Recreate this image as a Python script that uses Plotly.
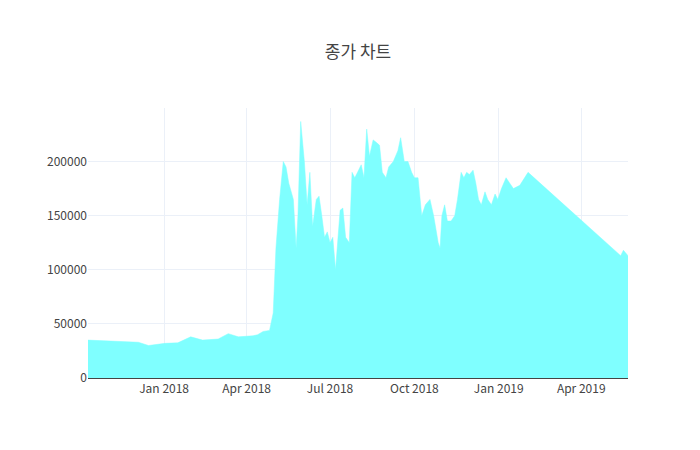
import plotly.graph_objects as go

dates = ["2017-10-10","2017-11-01","2017-12-04","2017-12-15","2018-01-02","2018-01-16","2018-01-30","2018-02-12",
"2018-03-01","2018-03-12","2018-03-23","2018-04-08","2018-04-13","2018-04-19","2018-04-26","2018-04-30",
"2018-05-03","2018-05-07","2018-05-11","2018-05-14","2018-05-17","2018-05-22","2018-05-25","2018-05-27",
"2018-05-30","2018-06-03","2018-06-06","2018-06-09","2018-06-12","2018-06-16","2018-06-19","2018-06-22",
"2018-06-25","2018-06-28","2018-07-01","2018-07-04","2018-07-07","2018-07-12","2018-07-15","2018-07-18",
"2018-07-22","2018-07-25","2018-07-28","2018-07-31","2018-08-04","2018-08-07","2018-08-10","2018-08-13",
"2018-08-17","2018-08-20","2018-08-24","2018-08-27","2018-08-31","2018-09-03","2018-09-08","2018-09-13",
"2018-09-16","2018-09-20","2018-09-24","2018-09-28","2018-10-01","2018-10-05","2018-10-09","2018-10-13",
"2018-10-18","2018-10-22","2018-10-27","2018-10-29","2018-10-31","2018-11-03","2018-11-06","2018-11-10",
"2018-11-14","2018-11-17","2018-11-21","2018-11-24","2018-11-27","2018-11-30","2018-12-04","2018-12-07",
"2018-12-10","2018-12-13","2018-12-17","2018-12-20","2018-12-24","2018-12-28","2018-12-31","2019-01-04",
"2019-01-09","2019-01-13","2019-01-17","2019-01-24","2019-02-02","2019-05-14","2019-05-17","2019-05-22"]
close = [35000,34000,33000,30000,32000,32500,38000,35000,
36000,41000,38000,39000,40000,43000,44000,60000,
120000,165000,200000,195000,180000,165000,120000,150000,
237000,200000,160000,190000,140000,165000,168000,150000,
130000,135000,125000,130000,100000,155000,157000,130000,
125000,190000,185000,190000,197000,185000,230000,205000,
220000,218000,215000,190000,185000,195000,200000,210000,
222000,200000,200000,190000,185000,185000,150000,160000,
165000,150000,125000,120000,150000,160000,145000,145000,
150000,165000,190000,185000,190000,188000,192000,180000,
165000,160000,172000,165000,160000,170000,165000,175000,
185000,180000,175000,178000,190000,113000,118000,113000]

fig = go.Figure(go.Scatter(x=dates, y=close, mode="lines", fill="tozeroy",
                           line=dict(width=0.5, color="#7fffff"), fillcolor="#7fffff"))
fig.update_layout(
    template="plotly_white", width=700, height=450,
    title=dict(text="종가 차트", x=0.5, xanchor="center"),
    font=dict(family="Noto Sans CJK KR, Open Sans, sans-serif", color="#444"),
    xaxis=dict(showline=True, linecolor="#444", tickformat="%b %Y"),
    yaxis=dict(tickformat="d", rangemode="tozero"),
)
fig.write_html("out.html")
